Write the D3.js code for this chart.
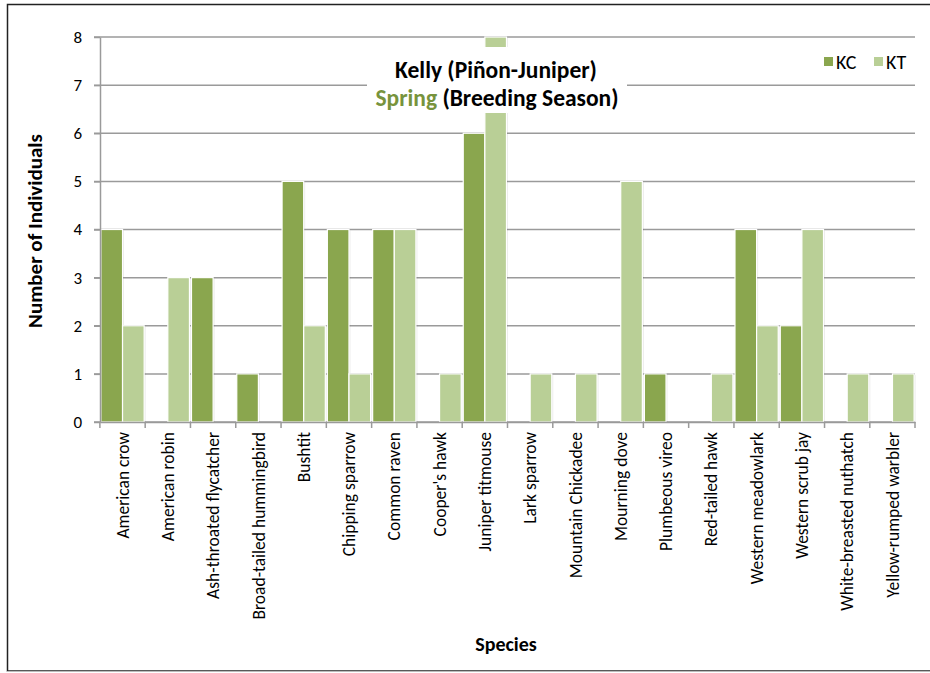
<!DOCTYPE html>
<html><head><meta charset="utf-8">
<script src="https://cdn.jsdelivr.net/npm/d3@7"></script>
<style>
body{margin:0;background:#fff;}
text{font-family:Carlito,Calibri,Lato,"Open Sans",sans-serif;}
</style></head>
<body>
<svg id="chart" width="930" height="673"></svg>
<script>
const categories = ["American crow","American robin","Ash-throated flycatcher","Broad-tailed hummingbird","Bushtit","Chipping sparrow","Common raven","Cooper's hawk","Juniper titmouse","Lark sparrow","Mountain Chickadee","Mourning dove","Plumbeous vireo","Red-tailed hawk","Western meadowlark","Western scrub jay","White-breasted nuthatch","Yellow-rumped warbler"];
const seriesNames = ["KC","KT"];
const KC = [4,0,3,1,5,4,4,0,6,0,0,0,1,0,4,2,0,0];
const KT = [2,3,0,0,2,1,4,1,8,1,1,5,0,1,2,4,1,1];
const yTicks = [0,1,2,3,4,5,6,7,8];
const colors = ["#8aa64e","#b9cf96"];

const svg = d3.select("#chart");
// outer border
svg.append("rect").attr("x",7.5).attr("y",4.5).attr("width",940).attr("height",666.5)
  .attr("fill","none").attr("stroke","#222").attr("stroke-width",1.5);
svg.append("line").attr("x1",7).attr("x2",930).attr("y1",671.5).attr("y2",671.5).attr("stroke","#bbb");

const L=100, R=915, T=37, B=422;
const x0 = d3.scaleBand().domain(categories).range([L,R]).paddingInner(0.045).paddingOuter(0.02);
const x1 = d3.scaleBand().domain(seriesNames).range([0,x0.bandwidth()]);
const y = d3.scaleLinear().domain([0,8]).range([B,T]);

// gridlines
svg.append("g").selectAll("line").data(yTicks).join("line")
  .attr("x1",L-6).attr("x2",R).attr("y1",d=>y(d)).attr("y2",d=>y(d))
  .attr("stroke","#9a9a9a").attr("stroke-width",1.5);

// bars
const data = categories.map((c,i)=>({c, vals:[KC[i],KT[i]]}));
const g = svg.append("g");
data.forEach(d=>{
  d.vals.forEach((v,j)=>{
    if(v<=0) return;
    const bx = x0(d.c)+x1(seriesNames[j]);
    g.append("rect").attr("x",bx+1.5).attr("y",y(v)+1).attr("width",x1.bandwidth()).attr("height",B-y(v)-1)
      .attr("fill","#000").attr("opacity",0.08);
    g.append("rect").attr("x",bx).attr("y",y(v)).attr("width",x1.bandwidth()).attr("height",B-y(v))
      .attr("fill",colors[j]).attr("stroke","#fff").attr("stroke-width",1.2);
  });
});

// y axis
const ya = svg.append("g").attr("transform",`translate(${L},0)`)
  .call(d3.axisLeft(y).tickValues(yTicks).tickSize(6).tickSizeOuter(0).tickPadding(12));
ya.select(".domain").attr("stroke","#9a9a9a").attr("stroke-width",1.5);
ya.selectAll(".tick line").attr("stroke","#9a9a9a").attr("stroke-width",1.5);
ya.selectAll("text").attr("font-size",17).attr("fill","#000").style("font-family","Carlito,Calibri,Lato,sans-serif");

// x axis
const xa = svg.append("g").attr("transform",`translate(0,${B})`)
  .call(d3.axisBottom(x0).tickSize(0).tickSizeOuter(0));
xa.select(".domain").attr("stroke","#9a9a9a").attr("stroke-width",1.5);
xa.selectAll("text").attr("transform","rotate(-90)").attr("text-anchor","end")
  .attr("x",-10).attr("y",0).attr("dy","0.35em").attr("font-size",17.5).attr("fill","#000")
  .style("font-family","Carlito,Calibri,Lato,sans-serif");
// category dividers
const bounds = categories.map(c=>x0(c)-x0.step()*x0.paddingInner()/2).concat([R]);
svg.append("g").selectAll("line").data(bounds).join("line")
  .attr("x1",d=>d).attr("x2",d=>d).attr("y1",B).attr("y2",B+6)
  .attr("stroke","#9a9a9a").attr("stroke-width",1.5);

// title box
svg.append("rect").attr("x",367).attr("y",47).attr("width",260).attr("height",66).attr("fill","#fff");
svg.append("text").attr("x",496).attr("y",78).attr("text-anchor","middle")
  .attr("font-size",23.5).attr("font-weight","bold").text("Kelly (Piñon-Juniper)");
const t2 = svg.append("text").attr("x",497).attr("y",106).attr("text-anchor","middle")
  .attr("font-size",23.5).attr("font-weight","bold");
t2.append("tspan").attr("fill","#77933c").text("Spring");
t2.append("tspan").attr("fill","#000").text(" (Breeding Season)");

// legend
const lg = svg.append("g");
seriesNames.forEach((s,i)=>{
  const lx = [824,874][i];
  lg.append("rect").attr("x",lx).attr("y",57).attr("width",9).attr("height",9).attr("fill",colors[i]);
  lg.append("text").attr("x",lx+12).attr("y",69).attr("font-size",20).text(s);
});

// axis titles
svg.append("text").attr("transform","translate(42,231) rotate(-90)").attr("text-anchor","middle")
  .attr("font-size",21).attr("font-weight","bold").text("Number of Individuals");
svg.append("text").attr("x",506).attr("y",651).attr("text-anchor","middle")
  .attr("font-size",20).attr("font-weight","bold").text("Species");
</script>
</body></html>
